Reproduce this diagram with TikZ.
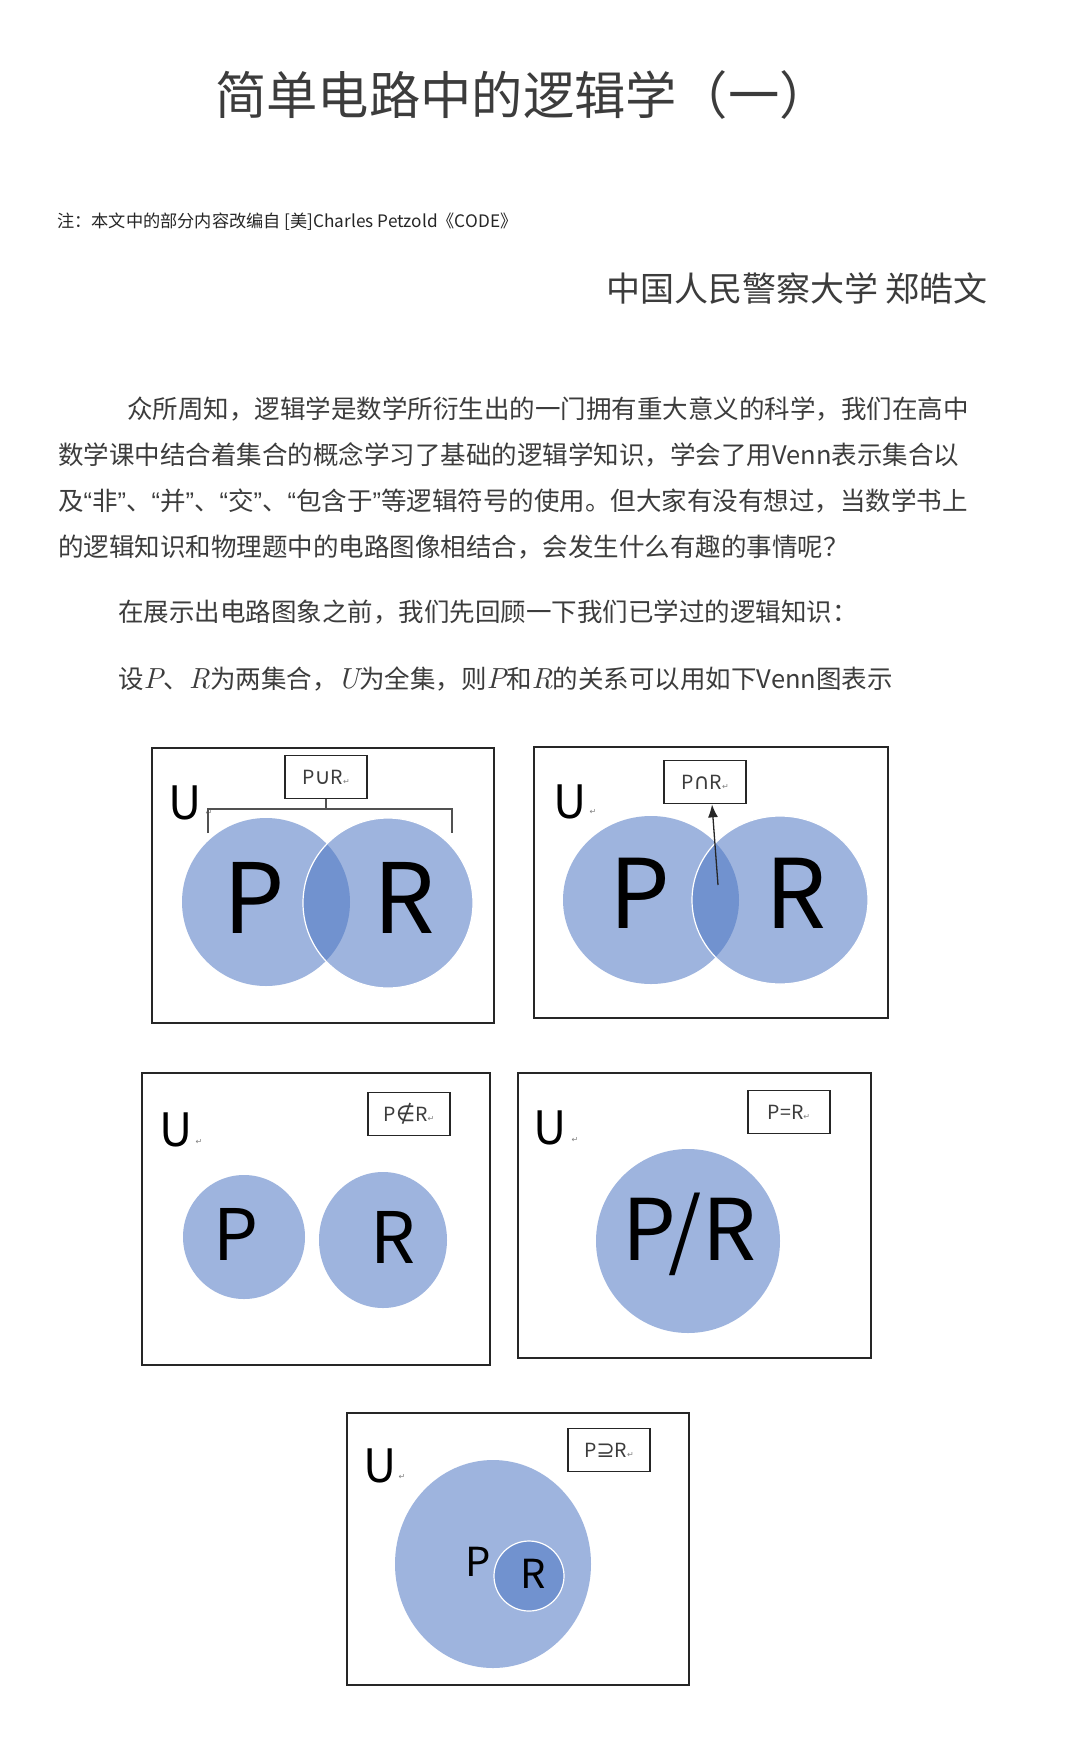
\documentclass[tikz,border=0pt]{standalone}
\usepackage{fontspec}
\setmainfont{Noto Sans CJK SC}
\newfontfamily\symfont{DejaVu Sans}
\newfontfamily\quotefont{Liberation Sans}
\newfontfamily\varfont{lmroman10-italic.otf}
\usetikzlibrary{arrows.meta}
\definecolor{ink}{HTML}{3C3C3C}
\definecolor{frame}{HTML}{262626}
\definecolor{setblue}{HTML}{9EB4DE}
\definecolor{lensblue}{HTML}{7192CF}
\newcommand{\fs}[1]{\fontsize{#1}{#1}\selectfont}
\newcommand{\retmark}{{\color{gray}\symfont\fs{8}↵}}
\newcommand{\sym}[1]{{\symfont\fs{22}#1}}
\newcommand{\q}[1]{{\quotefont “}#1{\quotefont ”}}
\newcommand{\setvar}[1]{{\varfont\fs{29}#1}}

\begin{document}
\begin{tikzpicture}[x=1pt, y=-1pt,
	line/.style={anchor=west, inner sep=0pt, text=ink, font=\fs{25.5}},
	uset/.style={draw=frame, line width=2pt},
	tag/.style={draw=frame, line width=1.7pt, minimum width=82pt, minimum height=43pt, inner sep=0pt, text=ink, font=\fs{19.5}},
	letter/.style={inner sep=0pt, text=black},
	ulabel/.style={inner sep=0pt, text=black, font=\fs{46}},
	ret/.style={inner sep=0pt, text=gray, font=\symfont\fs{8}}]
	\fill[white] (0,0) rectangle (1080,1756);
	\useasboundingbox (0,0) rectangle (1080,1756);

	% heading
	\node[anchor=west, inner sep=0pt, text=ink, font=\fs{51.3}] (title) at (215,95) {简单电路中的逻辑学（一）};
	\node[anchor=west, inner sep=0pt, text=black!85, font=\fs{17.2}] (note) at (57,222) {注：本文中的部分内容改编自 [美]Charles Petzold《CODE》};
	\node[anchor=east, inner sep=0pt, text=ink, font=\fs{34}] (author) at (988,289) {中国人民警察大学 郑皓文};

	% text
	\node[line] (l1) at (127,409) {众所周知，逻辑学是数学所衍生出的一门拥有重大意义的科学，我们在高中};
	\node[line] (l2) at (58,455) {数学课中结合着集合的概念学习了基础的逻辑学知识，学会了用Venn表示集合以};
	\node[line] (l3) at (58,501) {及\q{非}、\q{并}、\q{交}、\q{包含于}等逻辑符号的使用。但大家有没有想过，当数学书上};
	\node[line] (l4) at (58,547) {的逻辑知识和物理题中的电路图像相结合，会发生什么有趣的事情呢？};
	\node[line] (l5) at (118,612) {在展示出电路图象之前，我们先回顾一下我们已学过的逻辑知识：};
	\node[line] (l6) at (118,679) {设\setvar{P}、\setvar{R}为两集合，\setvar{U}为全集，则\setvar{P}和\setvar{R}的关系可以用如下Venn图表示};

	% union
	\draw[uset] (152,748) rectangle (494,1023);
	\fill[setblue] (266,902) circle[radius=84];
	\fill[setblue] (388,903) circle[radius=85];
	\begin{scope}
		\clip (266,902) circle[radius=84];
		\fill[lensblue] (388,903) circle[radius=85];
	\end{scope}
	\draw[white, line width=1.2pt] (388,903) circle[radius=85];
	\node[letter, font=\fs{97}] (p1) at (254,898) {P};
	\node[letter, font=\fs{97}] (r1) at (404,898) {R};
	\node[ulabel] (u1) at (185,803) {U};
	\node[ret] (e1) at (209,813) {↵};
	\node[tag] (tag1) at (326,777) {P\sym{∪}R\retmark};
	\coordinate (b1) at (208,833);
	\coordinate (b2) at (452,833);
	\draw[frame!80, line width=1.2pt] (tag1.south) -- (tag1.south |- 0,809);
	\draw[frame!80, line width=1.2pt] (b1) -- (b1 |- 0,809) -- (b2 |- 0,809) -- (b2);

	% intersection
	\draw[uset] (534,747) rectangle (888,1018);
	\fill[setblue] (651,900) ellipse[x radius=88, y radius=84];
	\fill[setblue] (780,900) ellipse[x radius=88, y radius=84];
	\begin{scope}
		\clip (651,900) ellipse[x radius=88, y radius=84];
		\fill[lensblue] (780,900) ellipse[x radius=88, y radius=84];
	\end{scope}
	\draw[white, line width=1.2pt] (780,900) ellipse[x radius=88, y radius=84];
	\node[letter, font=\fs{96}] (p2) at (640,893) {P};
	\node[letter, font=\fs{96}] (r2) at (796,893) {R};
	\node[ulabel] (u2) at (570,802) {U};
	\node[ret] (e2) at (593,812) {↵};
	\node[tag] (tag2) at (705,782) {P\sym{∩}R\retmark};
	\coordinate (a2) at (718,885);
	\draw[-{Latex[length=13pt, width=10pt]}, line width=1.3pt, frame] (a2) -- ([xshift=7pt]tag2.south);

	% disjoint
	\draw[uset] (142,1073) rectangle (490,1365);
	\fill[setblue] (244,1237) ellipse[x radius=61, y radius=62];
	\fill[setblue] (383,1240) ellipse[x radius=64, y radius=68];
	\node[letter, font=\fs{71}] (p3) at (236,1234) {P};
	\node[letter, font=\fs{71}] (r3) at (393,1237) {R};
	\node[ulabel] (u3) at (176,1130) {U};
	\node[ret] (e3) at (199,1142) {↵};
	\node[tag] (tag3) at (409,1114) {P\sym{∉}R\retmark};

	% equal
	\draw[uset] (518,1073) rectangle (871,1358);
	\fill[setblue] (688,1241) circle[radius=92];
	\node[letter, font=\fs{85}] (pr4) at (689,1234) {P/R};
	\node[ulabel] (u4) at (550,1128) {U};
	\node[ret] (e4) at (575,1140) {↵};
	\node[tag] (tag4) at (789,1112) {P=R\retmark};

	% subset
	\draw[uset] (347,1413) rectangle (689,1685);
	\fill[setblue] (493,1564) ellipse[x radius=98, y radius=104];
	\fill[lensblue] (529,1576) circle[radius=35];
	\draw[white, line width=1.2pt] (529,1576) circle[radius=35];
	\node[letter, font=\fs{40}] (p5) at (478,1562) {P};
	\node[letter, font=\fs{40}] (r5) at (533,1574) {R};
	\node[ulabel] (u5) at (380,1466) {U};
	\node[ret] (e5) at (402,1477) {↵};
	\node[tag] (tag5) at (609,1450) {P\sym{⊇}R\retmark};
\end{tikzpicture}
\end{document}
